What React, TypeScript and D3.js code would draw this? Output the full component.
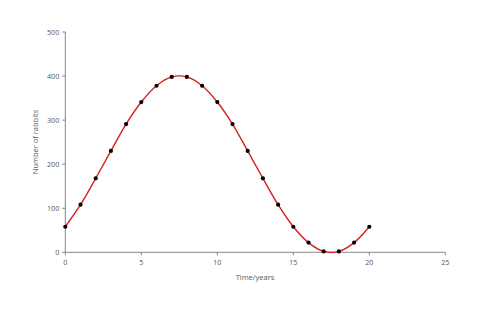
import React from "react";
import * as d3 from "d3";

const years = [0, 1, 2, 3, 4, 5, 6, 7, 8, 9, 10, 11, 12, 13, 14, 15, 16, 17, 18, 19, 20];
const rabbits = [58, 108, 168, 230, 291, 341, 378, 398, 398, 378, 341, 291, 230, 168, 108, 58, 22, 2, 2, 22, 58];
const xTicks = [0, 5, 10, 15, 20, 25];
const yTicks = [0, 100, 200, 300, 400, 500];

export default function App() {
  const W = 479, H = 313;
  const x = d3.scaleLinear().domain([0, 25]).range([65.3, 445.3]);
  const y = d3.scaleLinear().domain([0, 500]).range([252.3, 32]);
  const pts = years.map((t, i) => [t, rabbits[i]] as [number, number]);
  const line = d3
    .line<[number, number]>()
    .x((d) => x(d[0]))
    .y((d) => y(d[1]))
    .curve(d3.curveCatmullRom.alpha(0.5));
  const font = "'Open Sans', 'Liberation Sans', sans-serif";
  const grey = "#595959";
  return (
    <svg width={W} height={H} style={{ position: "absolute", left: 0, top: 0, background: "#fff" }}>
      <rect width={W} height={H} fill="#fff" />
      <line x1={x(0)} x2={x(0)} y1={y(0)} y2={y(500)} stroke="#868686" strokeWidth={1} />
      {yTicks.map((v) => (
        <g key={"y" + v}>
          <line x1={x(0) - 3} x2={x(0)} y1={y(v)} y2={y(v)} stroke="#868686" />
          <text x={x(0) - 6} y={y(v)} dy="0.35em" textAnchor="end" fontSize={7.2} fill={grey} fontFamily={font}>
            {v}
          </text>
        </g>
      ))}
      <line x1={x(0)} x2={x(25)} y1={y(0)} y2={y(0)} stroke="#868686" strokeWidth={1} />
      {xTicks.map((v) => (
        <g key={"x" + v}>
          <line x1={x(v)} x2={x(v)} y1={y(0)} y2={y(0) + 3} stroke="#868686" />
          <text x={x(v)} y={y(0) + 13} textAnchor="middle" fontSize={7.2} fill={grey} fontFamily={font}>
            {v}
          </text>
        </g>
      ))}
      <text x={255} y={280} textAnchor="middle" fontSize={7.5} fill={grey} fontFamily={font}>
        Time/years
      </text>
      <text
        transform={`translate(38,142) rotate(-90)`}
        textAnchor="middle"
        fontSize={7.5}
        fill={grey}
        fontFamily={font}
      >
        Number of rabbits
      </text>
      <path d={line(pts) || ""} fill="none" stroke="#d62020" strokeWidth={1.4} />
      {pts.map((p, i) => (
        <circle key={i} cx={x(p[0])} cy={y(p[1])} r={2.1} fill="#000" />
      ))}
    </svg>
  );
}
